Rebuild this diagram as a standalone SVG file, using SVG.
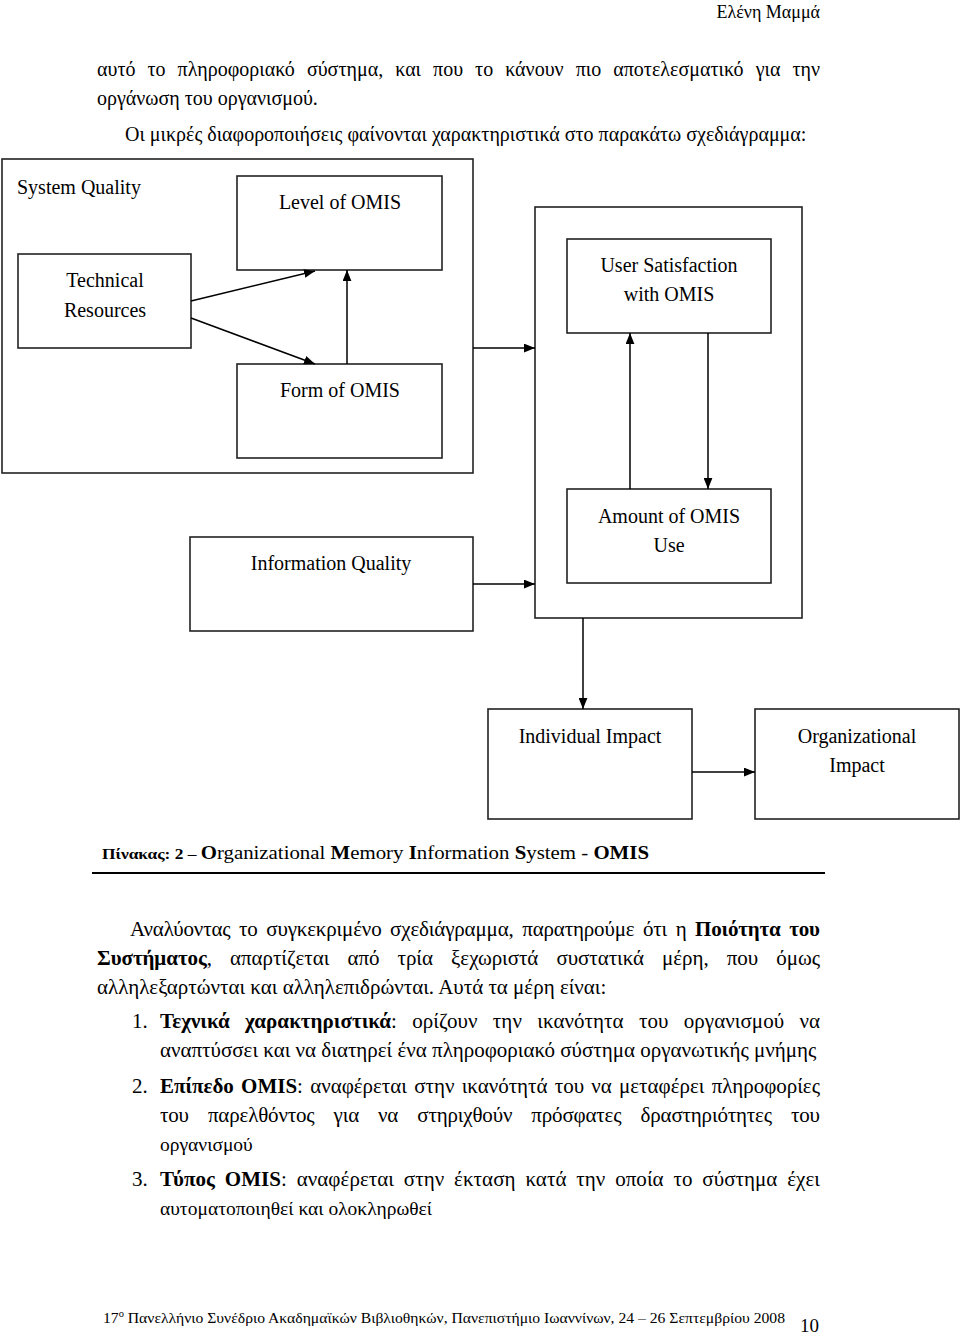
<svg xmlns="http://www.w3.org/2000/svg" width="960" height="1335" viewBox="0 0 960 1335">
<style>
text{font-family:"Liberation Serif","Times New Roman",serif;fill:#000}
.box{fill:none;stroke:#222;stroke-width:1.6}
.lbl{font-size:20px;text-anchor:middle}
.top{font-size:20px}
.body{font-size:21px}
.cond{font-size:19.5px}
.b{font-weight:bold}
.con line{stroke:#000;stroke-width:1.5;marker-end:url(#ah)}
</style>
<defs>
<marker id="ah" viewBox="0 0 10 8" refX="10" refY="4" markerWidth="11" markerHeight="9" markerUnits="userSpaceOnUse" orient="auto">
<path d="M0,0 L10,4 L0,8 z" fill="#000"/>
</marker>
</defs>
<rect width="960" height="1335" fill="#fff"/>

<text x="820" y="18" font-size="18" text-anchor="end">Ελένη Μαμμά</text>

<text class="top" x="97" y="76" word-spacing="7" textLength="723" lengthAdjust="spacing">αυτό το πληροφοριακό σύστημα, και που το κάνουν πιο αποτελεσματικό για την</text>
<text class="top" x="97" y="105">οργάνωση του οργανισμού.</text>
<text class="top" x="125" y="141">Οι μικρές διαφοροποιήσεις φαίνονται χαρακτηριστικά στο παρακάτω σχεδιάγραμμα:</text>

<g id="system-quality">
<rect class="box" x="2" y="159" width="471" height="314"/>
<text x="17" y="194" font-size="20">System Quality</text>
</g>
<g id="level-of-omis">
<rect class="box" x="237" y="176" width="205" height="94"/>
<text class="lbl" x="340" y="209">Level of OMIS</text>
</g>
<g id="technical-resources">
<rect class="box" x="18" y="254" width="173" height="94"/>
<text class="lbl" x="105" y="287">Technical</text>
<text class="lbl" x="105" y="317">Resources</text>
</g>
<g id="form-of-omis">
<rect class="box" x="237" y="364" width="205" height="94"/>
<text class="lbl" x="340" y="397">Form of OMIS</text>
</g>
<g id="use-group">
<rect class="box" x="535" y="207" width="267" height="411"/>
</g>
<g id="user-satisfaction">
<rect class="box" x="567" y="239" width="204" height="94"/>
<text class="lbl" x="669" y="272">User Satisfaction</text>
<text class="lbl" x="669" y="301">with OMIS</text>
</g>
<g id="amount-of-use">
<rect class="box" x="567" y="489" width="204" height="94"/>
<text class="lbl" x="669" y="523">Amount of OMIS</text>
<text class="lbl" x="669" y="552">Use</text>
</g>
<g id="information-quality">
<rect class="box" x="190" y="537" width="283" height="94"/>
<text class="lbl" x="331" y="570">Information Quality</text>
</g>
<g id="individual-impact">
<rect class="box" x="488" y="709" width="204" height="110"/>
<text class="lbl" x="590" y="743">Individual Impact</text>
</g>
<g id="organizational-impact">
<rect class="box" x="755" y="709" width="204" height="110"/>
<text class="lbl" x="857" y="743">Organizational</text>
<text class="lbl" x="857" y="772">Impact</text>
</g>

<g class="con" id="connectors">
<line x1="191" y1="301" x2="315" y2="271"/>
<line x1="191" y1="318" x2="315" y2="364"/>
<line x1="347" y1="364" x2="347" y2="270"/>
<line x1="473" y1="348" x2="535" y2="348"/>
<line x1="630" y1="489" x2="630" y2="333"/>
<line x1="708" y1="333" x2="708" y2="489"/>
<line x1="473" y1="584" x2="535" y2="584"/>
<line x1="583" y1="618" x2="583" y2="709"/>
<line x1="692" y1="772" x2="755" y2="772"/>
</g>

<text x="102" y="859" textLength="547" lengthAdjust="spacingAndGlyphs"><tspan class="b" font-size="15">Πίνακας: 2 – </tspan><tspan class="b" font-size="18">O</tspan><tspan font-size="18">rganizational </tspan><tspan class="b" font-size="18">M</tspan><tspan font-size="18">emory </tspan><tspan class="b" font-size="18">I</tspan><tspan font-size="18">nformation </tspan><tspan class="b" font-size="18">S</tspan><tspan font-size="18">ystem - </tspan><tspan class="b" font-size="18">OMIS</tspan></text>
<line x1="92" y1="873" x2="825" y2="873" stroke="#000" stroke-width="2"/>

<text class="body" x="130" y="936" word-spacing="3.5" textLength="690" lengthAdjust="spacing">Αναλύοντας το συγκεκριμένο σχεδιάγραμμα, παρατηρούμε ότι η <tspan class="b">Ποιότητα του</tspan></text>
<text class="body" x="97" y="965" word-spacing="13" textLength="723" lengthAdjust="spacing"><tspan class="b">Συστήματος</tspan>, απαρτίζεται από τρία ξεχωριστά συστατικά μέρη, που όμως</text>
<text class="body" x="97" y="994">αλληλεξαρτώνται και αλληλεπιδρώνται. Αυτά τα μέρη είναι:</text>

<text class="body" x="132" y="1028">1.</text>
<text class="body" x="160" y="1028" word-spacing="10" textLength="660" lengthAdjust="spacing"><tspan class="b">Τεχνικά χαρακτηριστικά</tspan>: ορίζουν την ικανότητα του οργανισμού να</text>
<text class="body" x="160" y="1057">αναπτύσσει και να διατηρεί ένα πληροφοριακό σύστημα οργανωτικής μνήμης</text>

<text class="body" x="132" y="1093">2.</text>
<text class="body" x="160" y="1093" word-spacing="2" textLength="660" lengthAdjust="spacing"><tspan class="b">Επίπεδο OMIS</tspan>: αναφέρεται στην ικανότητά του να μεταφέρει πληροφορίες</text>
<text class="body" x="160" y="1122" word-spacing="14" textLength="660" lengthAdjust="spacing">του παρελθόντος για να στηριχθούν πρόσφατες δραστηριότητες του</text>
<text class="cond" x="160" y="1151">οργανισμού</text>

<text class="body" x="132" y="1186">3.</text>
<text class="body" x="160" y="1186" word-spacing="4.5" textLength="660" lengthAdjust="spacing"><tspan class="b">Τύπος OMIS</tspan>: αναφέρεται στην έκταση κατά την οποία το σύστημα έχει</text>
<text class="cond" x="160" y="1215">αυτοματοποιηθεί και ολοκληρωθεί</text>

<text x="103" y="1323" font-size="15" textLength="682" lengthAdjust="spacingAndGlyphs">17<tspan font-size="10" dy="-6">ο</tspan><tspan dy="6"> Πανελλήνιο Συνέδριο Ακαδημαϊκών Βιβλιοθηκών, Πανεπιστήμιο Ιωαννίνων, 24 – 26 Σεπτεμβρίου 2008</tspan></text>
<text x="800" y="1332" font-size="19">10</text>
</svg>
